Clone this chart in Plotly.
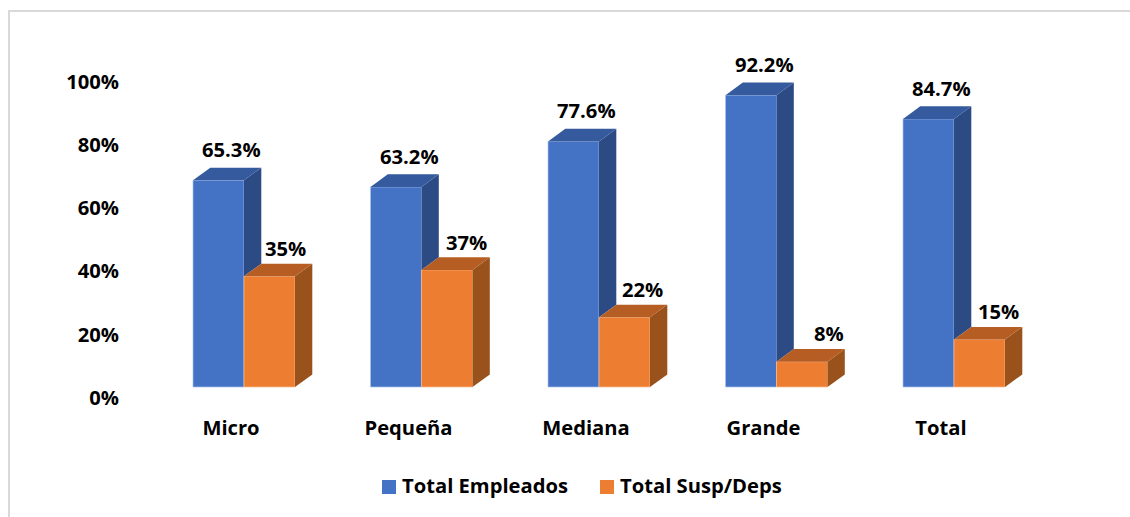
import plotly.graph_objects as go

categories = ["Micro", "Pequeña", "Mediana", "Grande", "Total"]
empleados = [65.3, 63.2, 77.6, 92.2, 84.7]
susp_deps = [35, 37, 22, 8, 15]
y_ticks = [0, 20, 40, 60, 80, 100]
series_names = ["Total Empleados", "Total Susp/Deps"]

W, H = 1130, 517
L, R, T, B = 120, 1090, 40, 398      # plot area in pixels
PITCH = 177.5                        # pixels per category
YS = 3.165                           # pixels per percent
X0 = 244                             # pixel of first group's centre
BASE = 387                           # pixel of the bars' floor
BAR = 51 / PITCH
DX = 17.3 / PITCH
DY = 12.6 / YS
LABEL_SHIFT = 13                     # axis labels sit left of the bars
FONT = "Open Sans"
FS = 20.2
BLUE, ORANGE = "#4472C4", "#ED7D31"

xr = [(L - X0) / PITCH, (R - X0) / PITCH]
yr = [(BASE - B) / YS, (BASE - T) / YS]
xr_lab = [xr[0] + LABEL_SHIFT / PITCH, xr[1] + LABEL_SHIFT / PITCH]
yr_lab = [0, (B - T) / YS]

idx = list(range(len(categories)))
fig = go.Figure()


def poly(xs, ys, color):
    fig.add_trace(go.Scatter(x=xs, y=ys, mode="lines", fill="toself", fillcolor=color,
                             line=dict(width=0, color=color), hoverinfo="skip",
                             showlegend=False, xaxis="x2", yaxis="y2"))


fig.add_trace(go.Bar(x=idx, y=empleados, name=series_names[0], showlegend=False,
                     marker=dict(color=BLUE, line=dict(color="rgba(170,195,235,0.7)", width=1)),
                     xaxis="x2", yaxis="y2", offset=-BAR, width=BAR))
fig.add_trace(go.Bar(x=idx, y=susp_deps, name=series_names[1], showlegend=False,
                     marker=dict(color=ORANGE, line=dict(color="rgba(248,190,150,0.7)", width=1)),
                     xaxis="x2", yaxis="y2", offset=0, width=BAR))

for i, v, o in zip(idx, empleados, susp_deps):
    # blue side: only the part behind the orange top is hidden
    poly([i, i + DX, i + DX, i, i], [o, o + DY, v + DY, v, o], "#2C4A84")
    poly([i - BAR, i - BAR + DX, i + DX, i, i - BAR], [v, v + DY, v + DY, v, v], "#355A9E")
    # orange side and top
    r = i + BAR
    poly([r, r + DX, r + DX, r, r], [0, DY, o + DY, o, 0], "#9A521C")
    poly([i, i + DX, r + DX, r, i], [o, o + DY, o + DY, o, o], "#B55D22")

# invisible trace that gives the label axes something to carry
fig.add_trace(go.Scatter(x=idx, y=[0] * len(idx), mode="markers", marker=dict(opacity=0),
                         showlegend=False, hoverinfo="skip"))

bold = dict(family=FONT, size=FS, color="black", weight="bold")
or_nudge = [15.5, 19, 17.5, 27, 18.5]
or_lift = [28, 28, 28, 29, 29]
for i, v in zip(idx, empleados):
    fig.add_annotation(x=i - BAR / 2, y=v, xref="x2", yref="y2", text=f"{v:.1f}%", showarrow=False,
                       xshift=13, yshift=31, font=bold)
for i, v, n, l in zip(idx, susp_deps, or_nudge, or_lift):
    fig.add_annotation(x=i + BAR / 2, y=v, xref="x2", yref="y2", text=f"{v:.0f}%", showarrow=False,
                       xshift=n, yshift=l, font=bold)

px = lambda x: (x - L) / (R - L)
py = lambda y: (B - y) / (B - T)

# legend, drawn by hand so swatch and text gaps match
for name, col, sx, tx in zip(series_names, [BLUE, ORANGE], [382, 600], [401, 619]):
    fig.add_shape(type="rect", xref="paper", yref="paper", x0=px(sx), x1=px(sx + 14), y0=py(494), y1=py(480),
                  fillcolor=col, line=dict(width=0))
    fig.add_annotation(xref="paper", yref="paper", x=px(tx), y=py(485), text=name, showarrow=False,
                       xanchor="left", yanchor="middle", xshift=-1, font=bold)

frame = dict(color="#D9D9D9", width=2)
fig.add_shape(type="line", xref="paper", yref="paper", x0=px(9), x1=px(9), y0=py(517), y1=py(11), line=frame)
fig.add_shape(type="line", xref="paper", yref="paper", x0=px(8), x1=px(1130), y0=py(11), y1=py(11), line=frame)

fig.update_layout(
    width=W, height=H, margin=dict(l=L, r=W - R, t=T, b=H - B), autosize=False,
    paper_bgcolor="white", plot_bgcolor="rgba(0,0,0,0)",
    barmode="overlay", showlegend=False,
    xaxis=dict(type="linear", range=xr_lab, tickvals=idx, ticktext=categories, showgrid=False, zeroline=False,
               showline=False, ticks="outside", ticklen=12, tickcolor="rgba(0,0,0,0)", tickfont=bold),
    yaxis=dict(range=yr_lab, tickvals=y_ticks, ticktext=[f"{t}%" for t in y_ticks], showgrid=False, zeroline=False,
               showline=False, ticks="", tickfont=bold),
    xaxis2=dict(range=xr, overlaying="x", visible=False),
    yaxis2=dict(range=yr, overlaying="y", visible=False),
)
fig.write_html("out.html", config=dict(displayModeBar=False),
               post_script='document.body.style.margin="0";document.documentElement.style.overflow="hidden";')
